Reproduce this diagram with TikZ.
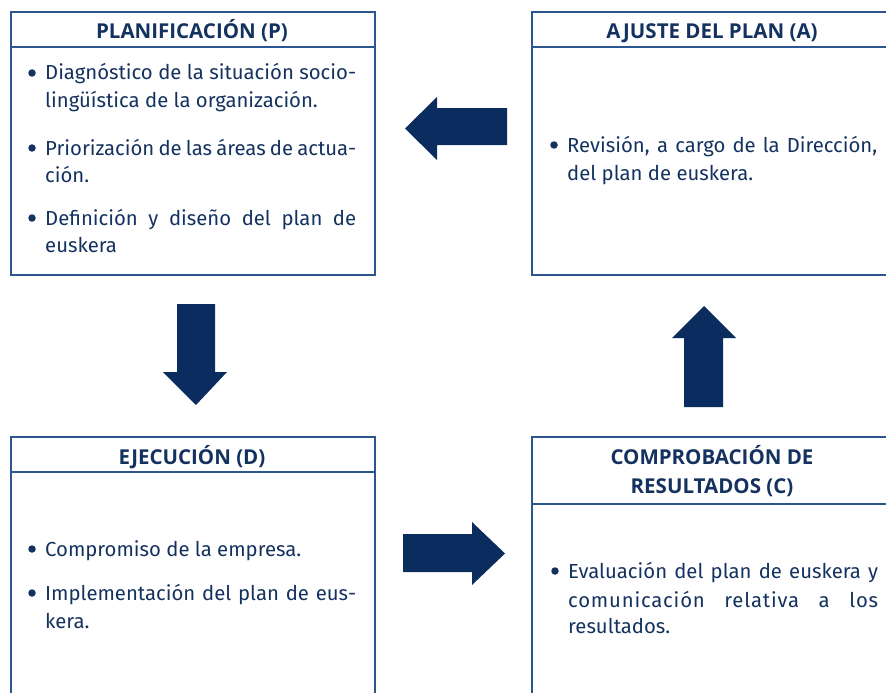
\documentclass[tikz,border=0pt]{standalone}
\usepackage{fontspec}
\setmainfont{Fira Sans}
\newfontfamily\hdfont{Open Sans}
\definecolor{navy}{HTML}{0B2C5E}
\definecolor{txt}{HTML}{14325F}
\definecolor{frame}{HTML}{2C5690}
\begin{document}
\begin{tikzpicture}[x=1pt,y=-1pt,
  frm/.style={draw=frame,line width=1.6pt},
  arr/.style={fill=navy,draw=none},
  hd/.style={text=txt,font=\hdfont\fontsize{20.5}{24}\selectfont\bfseries,anchor=base,inner sep=0pt},
  bd/.style={text=txt,font=\fontsize{20.3}{24}\selectfont,anchor=base west,inner sep=0pt},
  bl/.style={circle,fill=txt,draw=none,minimum size=7.5pt,inner sep=0pt}]
\path[use as bounding box] (0,0) rectangle (886,693);
\begin{scope}
\clip (0,0) rectangle (886,693);
% boxes
\node[frm,anchor=north west,minimum width=364pt,minimum height=263pt,inner sep=0pt] (P) at (10,11) {};
\draw[frm] (P.west |- 0,47) -- (P.east |- 0,47);
\node[frm,anchor=north west,minimum width=380pt,minimum height=263pt,inner sep=0pt] (A) at (531,11) {};
\draw[frm] (A.west |- 0,47) -- (A.east |- 0,47);
\node[frm,anchor=north west,minimum width=364pt,minimum height=280pt,inner sep=0pt] (D) at (10,436) {};
\draw[frm] (D.west |- 0,472) -- (D.east |- 0,472);
\node[frm,anchor=north west,minimum width=380pt,minimum height=280pt,inner sep=0pt] (C) at (531,436) {};
\draw[frm] (C.west |- 0,504) -- (C.east |- 0,504);
\end{scope}
% headers
\node[hd] (Ph) at (192,39) {PLANIFICACIÓN (P)};
\node[hd] (Ah) at (712,39) {AJUSTE DEL PLAN (A)};
\node[hd] (Dh) at (192,464) {EJECUCIÓN (D)};
\node[hd] (Ch1) at (712,464) {COMPROBACIÓN DE};
\node[hd] (Ch2) at (712,493) {RESULTADOS (C)};
% P body
\node[bl] (pb1) at (32,73) {};
\node[bd] (p1) at (45,80) {\makebox[311pt][s]{Diagnóstico de la situación socio-}};
\node[bd] (p2) at (45,107) {lingüística de la organización.};
\node[bl] (pb2) at (32,148) {};
\node[bd] (p3) at (45,155) {\makebox[311pt][s]{Priorización de las áreas de actua-}};
\node[bd] (p4) at (45,182) {ción.};
\node[bl] (pb3) at (32,218) {};
\node[bd] (p5) at (45,225) {\makebox[311pt][s]{Definición y diseño del plan de}};
\node[bd] (p6) at (45,252) {euskera};
% A body
\node[bl] (ab1) at (554,145) {};
\node[bd] (a1) at (567,152) {\makebox[310pt][s]{Revisión, a cargo de la Dirección,}};
\node[bd] (a2) at (567,180) {del plan de euskera.};
% D body
\node[bl] (db1) at (32,549) {};
\node[bd] (d1) at (45,556) {Compromiso de la empresa.};
\node[bl] (db2) at (32,593) {};
\node[bd] (d2) at (45,600) {\makebox[311pt][s]{Implementación del plan de eus-}};
\node[bd] (d3) at (45,628) {kera.};
% C body
\node[bl] (cb1) at (555,571) {};
\node[bd] (c1) at (568,578) {\makebox[310pt][s]{Evaluación del plan de euskera y}};
\node[bd] (c2) at (568,607) {\makebox[310pt][s]{\addfontfeature{LetterSpace=4}comunicación relativa a los}};
\node[bd] (c3) at (568,633) {resultados.};
% block arrows
\fill[arr] (507,108) -- (437,108) -- (437,97) -- (405,128.5) -- (437,160) -- (437,145) -- (507,145) -- cycle;
\fill[arr] (177,304) -- (215,304) -- (215,372) -- (227,372) -- (196,405) -- (163,372) -- (177,372) -- cycle;
\fill[arr] (684,407) -- (684,338) -- (672,338) -- (704,306) -- (736,338) -- (723,338) -- (723,407) -- cycle;
\fill[arr] (403,534) -- (472,534) -- (472,522) -- (505,553.5) -- (472,585) -- (472,572) -- (403,572) -- cycle;
\end{tikzpicture}
\end{document}
